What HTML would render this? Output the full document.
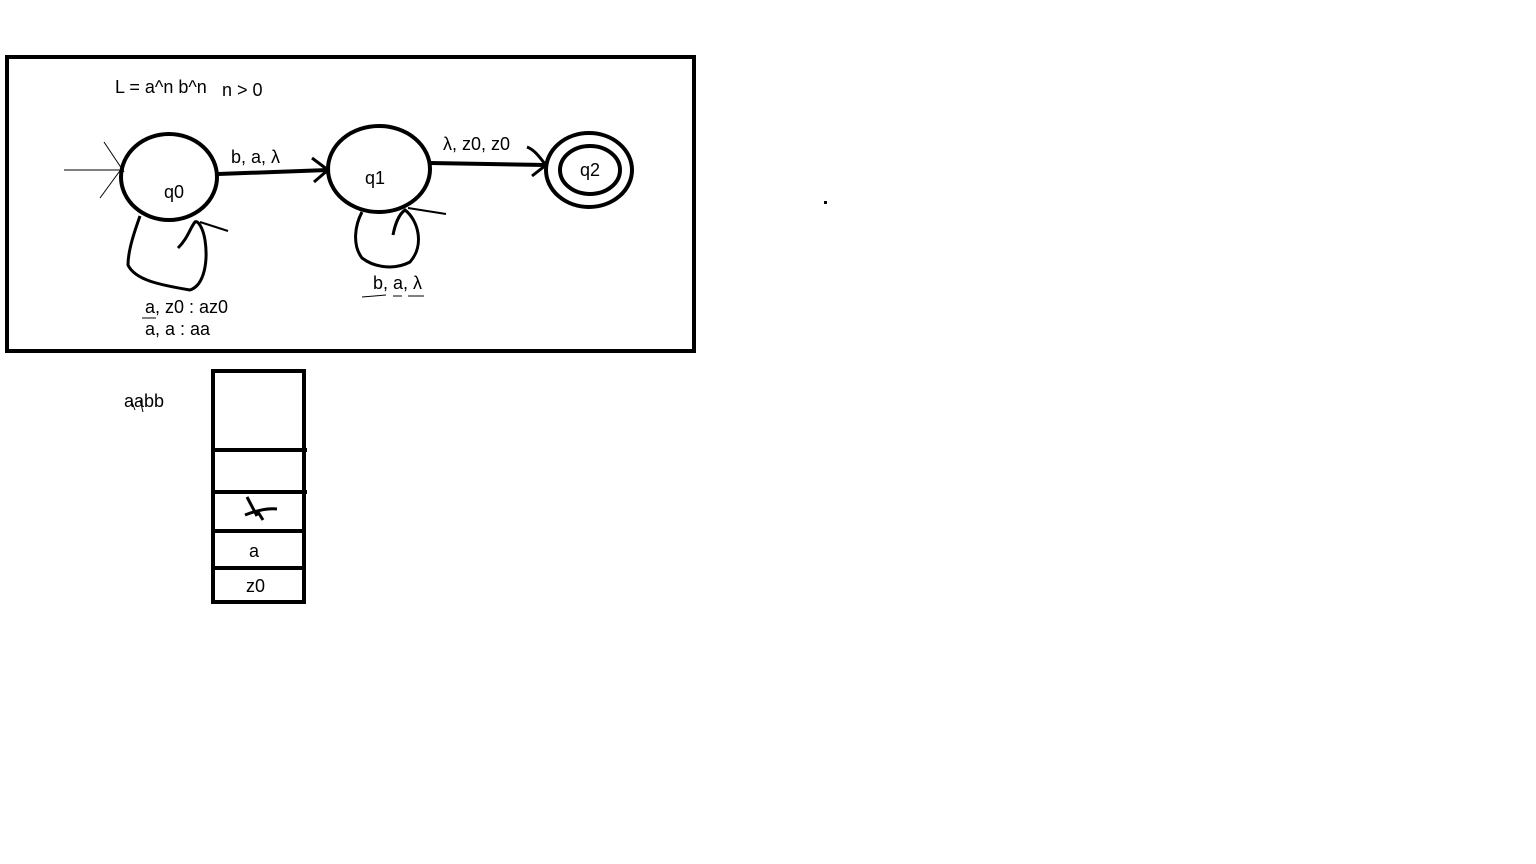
<!DOCTYPE html>
<html><head><meta charset="utf-8"><style>
html,body{margin:0;padding:0;background:#fff;width:1536px;height:864px;overflow:hidden}
svg{display:block}
text{font-family:"Liberation Sans",sans-serif;font-size:18px;fill:#000}
</style></head><body>
<svg width="1536" height="864" viewBox="0 0 1536 864">
<rect x="7" y="57" width="687" height="294" fill="none" stroke="#000" stroke-width="4"/>
<text x="115" y="93">L = a^n b^n</text>
<text x="222" y="96">n &gt; 0</text>

<g stroke="#000" stroke-width="1" fill="none">
<line x1="64" y1="170" x2="124" y2="170"/>
<line x1="104" y1="142" x2="124" y2="172"/>
<line x1="100" y1="198" x2="122" y2="168"/>
</g>

<g>
<ellipse cx="169" cy="177" rx="48" ry="43" fill="none" stroke="#000" stroke-width="4"/>
<text x="164" y="198">q0</text>
</g>
<path d="M140 216 C 135 230,128 250,128 265 C 135 280,160 285,190 290 C 205 285,208 260,205 240 C 203 228,198 220,195 222 C 190 228,188 238,178 248" fill="none" stroke="#000" stroke-width="3"/>
<line x1="200" y1="222" x2="228" y2="231" stroke="#000" stroke-width="2"/>
<text x="145" y="313">a, z0 : az0</text>
<text x="145" y="335">a, a : aa</text>
<line x1="142" y1="318" x2="156" y2="318" stroke="#000" stroke-width="1"/>

<g>
<path d="M218 174 L328 170" stroke="#000" stroke-width="4" fill="none"/>
<path d="M312 158 L328 170 L314 182" stroke="#000" stroke-width="3" fill="none"/>
<text x="231" y="163">b, a, λ</text>
</g>

<g>
<ellipse cx="379" cy="169" rx="51" ry="43" fill="none" stroke="#000" stroke-width="4"/>
<text x="365" y="184">q1</text>
</g>
<path d="M362 212 C 355 225,352 245,362 258 C 375 268,395 270,410 262 C 425 245,418 220,405 210 C 398 215,395 225,393 235" fill="none" stroke="#000" stroke-width="3"/>
<line x1="408" y1="208" x2="446" y2="214" stroke="#000" stroke-width="2"/>
<text x="373" y="289">b, a, λ</text>
<path d="M362 297 L386 295 M393 296 L402 296 M408 296 L424 296" stroke="#000" stroke-width="1"/>

<g>
<path d="M430 163 L546 165" stroke="#000" stroke-width="4" fill="none"/>
<path d="M527 147 C 535 150,540 158,546 165 L532 176" stroke="#000" stroke-width="3" fill="none"/>
<text x="443" y="150">λ, z0, z0</text>
</g>

<g>
<ellipse cx="589" cy="170" rx="43" ry="37" fill="none" stroke="#000" stroke-width="4"/>
<ellipse cx="590" cy="170" rx="30" ry="24" fill="none" stroke="#000" stroke-width="4"/>
<text x="580" y="176">q2</text>
</g>

<rect x="824" y="201" width="3" height="3" fill="#000"/>

<text x="124" y="407">aabb</text>
<path d="M131 400 L135 410 M140 400 L143 412" stroke="#000" stroke-width="1"/>

<g stroke="#000" stroke-width="4" fill="none">
<rect x="213" y="371" width="91" height="231"/>
<line x1="211" y1="450" x2="307" y2="450"/>
<line x1="211" y1="492" x2="307" y2="492"/>
<line x1="211" y1="531" x2="304" y2="531"/>
<line x1="211" y1="568" x2="304" y2="568"/>
</g>
<path d="M247 497 L257 516 M245 515 C 258 510,268 508,277 509 M258 512 L263 520" stroke="#000" stroke-width="3" fill="none"/>
<text x="249" y="557">a</text>
<text x="246" y="592">z0</text>
</svg>
</body></html>
